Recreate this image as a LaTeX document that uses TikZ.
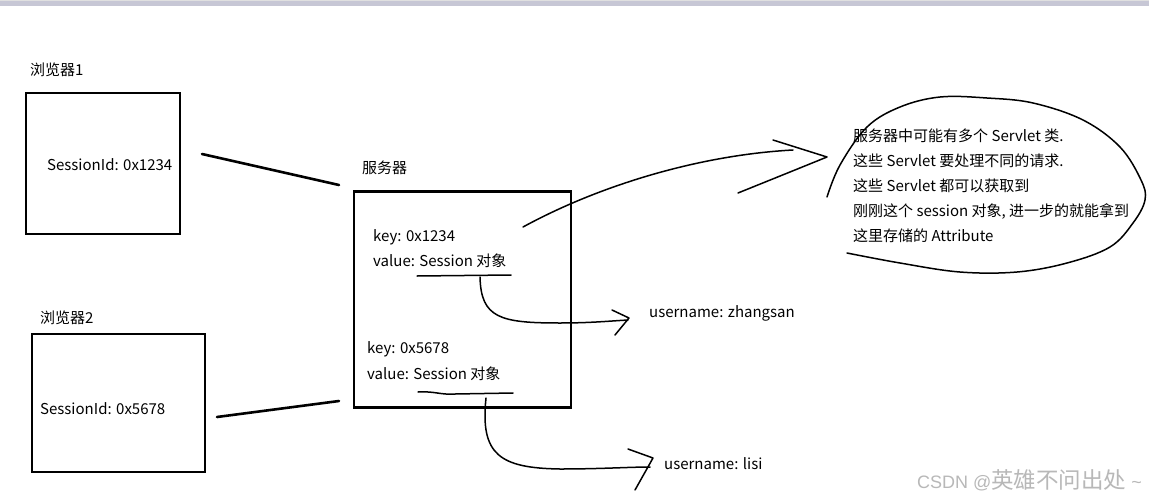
\documentclass[tikz,border=0pt]{standalone}
\usepackage{fontspec}
\setmainfont{Noto Sans CJK SC}
\newfontfamily\wmlatin{Liberation Sans}
\begin{document}
\begin{tikzpicture}[x=1pt,y=-1pt,
  box/.style={draw=black, line width=2.6pt, minimum width=#1, inner sep=0pt},
  lbl/.style={anchor=west, inner sep=0pt, font=\fontsize{15}{16}\selectfont},
  conn/.style={line width=2.6pt, line cap=round},
  pen/.style={line width=1.5pt, line cap=round, line join=round}]
\useasboundingbox (0,0) rectangle (1149,501);
\fill[white] (0,0) rectangle (1149,501);
\fill[black!12] (0,0) rectangle (1149,1.2);
\fill[blue!25!black!22] (0,1.2) rectangle (1149,6);
% browser 1
\node[lbl] (l1) at (30,70) {浏览器1};
\node[box=154pt, minimum height=141pt] (b1) at (103,163.5) {};
\node[lbl] (s1) at (47,165) {SessionId: 0x1234};
% browser 2
\node[lbl] (l2) at (40,318) {浏览器2};
\node[box=173pt, minimum height=138pt] (b2) at (118.5,403) {};
\node[lbl] (s2) at (40,409) {SessionId: 0x5678};
% server
\node[lbl] (ls) at (362,168) {服务器};
\node[box=217pt, minimum height=216pt] (srv) at (462.5,299.5) {};
\node[lbl] (k1) at (373,237) {key: 0x1234};
\node[lbl] (v1) at (373,261) {value: Session 对象};
\node[lbl] (k2) at (367,349) {key: 0x5678};
\node[lbl] (v2) at (367,374) {value: Session 对象};
\node[lbl] (u1) at (649,313) {username: zhangsan};
\node[lbl] (u2) at (664,464) {username: lisi};
% note
\node[lbl, align=left, font=\fontsize{15}{25}\selectfont] (note) at (853,186) {服务器中可能有多个 Servlet 类.\\这些 Servlet 要处理不同的请求.\\这些 Servlet 都可以获取到\\刚刚这个 session 对象, 进一步的就能拿到\\这里存储的 Attribute};
% watermark
\node[anchor=east, inner sep=0pt, text=black!28] (wm) at (1142,480) {{\wmlatin\fontsize{18}{20}\selectfont CSDN @}{\fontsize{22.5}{24}\selectfont 英雄不问出处}{\wmlatin\fontsize{18}{20}\selectfont\ \string~}};
% coordinates
\coordinate (c1a) at (202,154);
\coordinate (c1b) at (339,185);
\coordinate (c2a) at (217,417);
\coordinate (c2b) at (339,401);
\coordinate (ul1a) at (417,276);
\coordinate (ul1b) at (511,275);
\coordinate (ul2a) at (418,392);
\coordinate (ul2b) at (513,393);
\coordinate (z0) at (480,277);
\coordinate (z1) at (560,323);
\coordinate (z2) at (628,320);
\coordinate (za) at (612,310);
\coordinate (zt) at (629,318);
\coordinate (zb) at (615,335);
\coordinate (l0) at (486,398);
\coordinate (lm) at (560,469);
\coordinate (le) at (650,467);
\coordinate (la) at (628,449);
\coordinate (lt) at (653,458);
\coordinate (lb) at (635,490);
\coordinate (a0) at (523,227);
\coordinate (a1) at (793,150);
\coordinate (aa) at (773,140);
\coordinate (at) at (827,157);
\coordinate (ab) at (738,193);
% connectors
\draw[conn] (c1a) -- (c1b);
\draw[conn] (c2a) -- (c2b);
\draw[pen] (ul1a) -- (ul1b);
\draw[pen] (ul2a) .. controls (435,391) and (440,395) .. (455,394) -- (ul2b);
\draw[pen] (z0) .. controls (481,318) and (500,323) .. (z1) .. controls (590,323) and (610,321) .. (z2);
\draw[pen] (za) -- (zt) -- (zb);
\draw[pen] (l0) .. controls (480,455) and (500,468) .. (lm) .. controls (600,469) and (630,467) .. (le);
\draw[pen] (la) -- (lt) -- (lb);
\draw[pen] (a0) .. controls (600,185) and (700,155) .. (a1);
\draw[pen] (aa) -- (at) .. controls (790,172) .. (ab);
% callout outline
\draw[pen] plot[smooth, tension=0.6] coordinates {(827,197) (840,165) (867,127) (900,107) (940,97) (987,98) (1033,103) (1083,120) (1120,147) (1141,180) (1145,200) (1133,223) (1110,247) (1067,263) (1017,272) (960,272) (900,263) (847,253)};
\end{tikzpicture}
\end{document}
